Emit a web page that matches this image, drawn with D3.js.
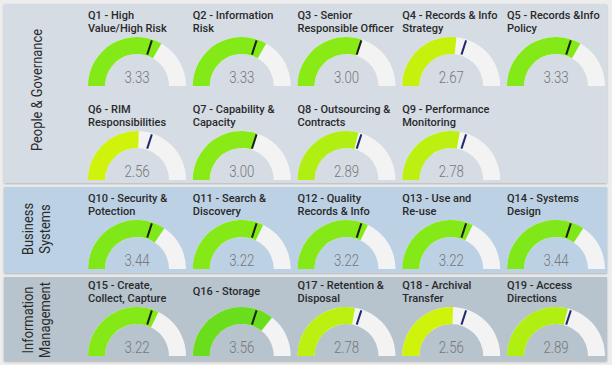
<!DOCTYPE html>
<html>
<head>
<meta charset="utf-8">
<script src="https://cdn.jsdelivr.net/npm/d3@7"></script>
<style>
  body { margin: 0; background: #ededed; }
  svg { display: block; }
</style>
</head>
<body>
<svg id="chart" width="612" height="365"></svg>
<script>
// question titles, one entry per gauge ("|" = line break)
const titles = [
  "Q1 - High|Value/High Risk", "Q2 - Information|Risk", "Q3 - Senior|Responsible Officer",
  "Q4 - Records & Info|Strategy", "Q5 - Records &Info|Policy",
  "Q6 - RIM|Responsibilities", "Q7 - Capability &|Capacity", "Q8 - Outsourcing &|Contracts",
  "Q9 - Performance|Monitoring",
  "Q10 - Security &|Potection", "Q11 - Search &|Discovery", "Q12 - Quality|Records & Info",
  "Q13 - Use and|Re-use", "Q14 - Systems|Design",
  "Q15 - Create,|Collect, Capture", "Q16 - Storage", "Q17 - Retention &|Disposal",
  "Q18 - Archival|Transfer", "Q19 - Access|Directions"
];
const values = [3.33, 3.33, 3.00, 2.67, 3.33, 2.56, 3.00, 2.89, 2.78,
                3.44, 3.22, 3.22, 3.22, 3.44,
                3.22, 3.56, 2.78, 2.56, 2.89];
// which panel each question belongs to
const groupOf = [0,0,0,0,0,0,0,0,0, 1,1,1,1,1, 2,2,2,2,2];
const groups = ["People & Governance", "Business|Systems", "Information|Management"];
const target = 3;
const maxValue = 5;

const svg = d3.select("#chart");

// panel boxes
const panels = [
  { y: 4, h: 179, fill: "#d5dce4", labelY: 90 },
  { y: 187, h: 86, fill: "#bdd1e4", labelY: 229 },
  { y: 277, h: 84, fill: "#b7c3cd", labelY: 320 }
];
const defs = svg.append("defs");
const f = defs.append("filter").attr("id", "sh").attr("x", "-5%").attr("y", "-5%")
  .attr("width", "110%").attr("height", "115%");
f.append("feDropShadow").attr("dx", 0).attr("dy", 1).attr("stdDeviation", 1)
  .attr("flood-color", "#000").attr("flood-opacity", 0.25);

svg.selectAll("rect.panel").data(panels).enter().append("rect")
  .attr("class", "panel")
  .attr("x", 4).attr("y", d => d.y).attr("width", 603).attr("height", d => d.h)
  .attr("fill", d => d.fill).attr("filter", "url(#sh)");

// rotated group labels (narrowed to mimic the condensed face)
groups.forEach((g, i) => {
  const lines = g.split("|");
  const t = svg.append("text")
    .attr("transform", `translate(${lines.length > 1 ? 36 : 37},${panels[i].labelY}) rotate(-90) scale(0.86,1)`)
    .attr("text-anchor", "middle")
    .attr("font-family", "Roboto, 'Noto Sans', sans-serif")
    .attr("font-size", 15)
    .attr("fill", "#2b2b2b");
  lines.forEach((l, j) => {
    t.append("tspan").attr("x", 0)
      .attr("y", lines.length > 1 ? (j === 0 ? -3 : 14) : 5)
      .text(l);
  });
});

// gauge layout: column x (left edge) and row baseline (gauge center y)
const colX = d3.scaleLinear().domain([0, 4]).range([88, 507]);
const rowY = [86, 180, 269, 356];
const rowOf = i => groupOf[i] === 0 ? Math.floor(i / 5) : groupOf[i] + 1;
const colOf = i => groupOf[i] === 0 ? i % 5 : (i - 9) % 5;

const outerR = 49, innerR = 32;
const angle = d3.scaleLinear().domain([0, maxValue]).range([-Math.PI / 2, Math.PI / 2]);
const color = d3.scaleLinear().domain([2.5, 2.9, 3.0, 3.45, 3.6])
  .range(["#d6f40a", "#b0ee12", "#8aea16", "#80e818", "#62db1f"]);
const arc = d3.arc().innerRadius(innerR).outerRadius(outerR);

const gauges = svg.selectAll("g.gauge").data(values).enter().append("g")
  .attr("class", "gauge")
  .attr("transform", (d, i) => `translate(${colX(colOf(i)) + outerR},${rowY[rowOf(i)]})`);

gauges.append("path")
  .attr("d", arc({ startAngle: angle(0), endAngle: angle(maxValue) }))
  .attr("fill", "#f3f3f3");

gauges.append("path")
  .attr("d", d => arc({ startAngle: angle(0), endAngle: angle(d) }))
  .attr("fill", d => color(d));

// target marker
const ta = angle(target);
gauges.append("line")
  .attr("x1", (innerR + 1) * Math.sin(ta)).attr("y1", -(innerR + 1) * Math.cos(ta))
  .attr("x2", (outerR - 1) * Math.sin(ta)).attr("y2", -(outerR - 1) * Math.cos(ta))
  .attr("stroke", d => d >= target ? "#1a1f1a" : "#1f2a6e")
  .attr("stroke-width", 2);

// value label (thin, condensed look)
gauges.append("text")
  .attr("transform", "translate(0,-3) scale(0.78,1)")
  .attr("text-anchor", "middle")
  .attr("font-family", "Roboto, sans-serif")
  .attr("font-weight", 300)
  .attr("font-size", 17)
  .attr("fill", "#787878")
  .text(d => d.toFixed(2));

// titles
gauges.each(function (d, i) {
  const lines = titles[i].split("|");
  const t = d3.select(this).append("text")
    .attr("font-family", "Roboto, 'Noto Sans', sans-serif")
    .attr("font-size", 11)
    .attr("font-weight", 500)
    .attr("fill", "#2a2a2a");
  lines.forEach((l, j) => {
    t.append("tspan")
      .attr("x", -outerR)
      .attr("y", lines.length > 1 ? -67 + j * 12.5 : -61)
      .text(l);
  });
});
</script>
</body>
</html>
